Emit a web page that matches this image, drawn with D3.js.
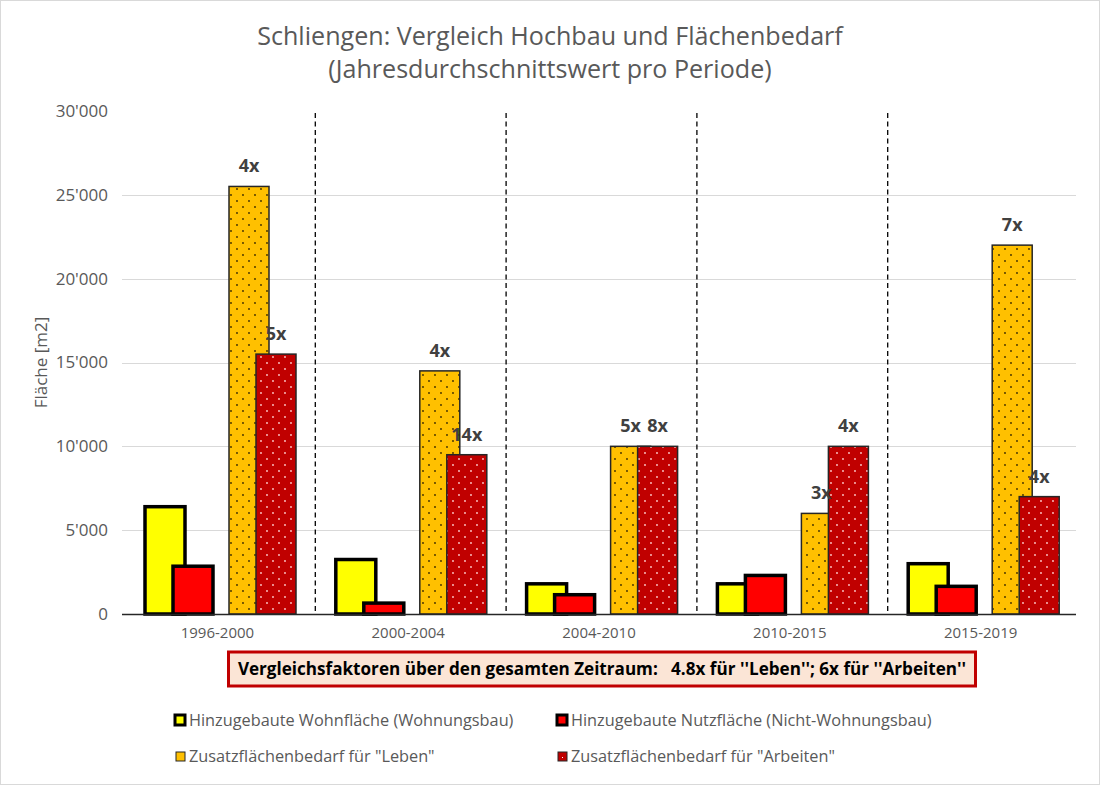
<!DOCTYPE html>
<html>
<head>
<meta charset="utf-8">
<script src="https://cdn.jsdelivr.net/npm/d3@7"></script>
<style>
  html, body { margin: 0; padding: 0; background: #fff; }
  svg { display: block; font-family: "Open Sans", Lato, sans-serif; }
</style>
</head>
<body>
<svg id="chart" width="1100" height="785"></svg>
<script>
// ---------- data ----------
const categories = ["1996-2000", "2000-2004", "2004-2010", "2010-2015", "2015-2019"];
const wohnflaeche = [6400, 3250, 1800, 1800, 3000];
const nutzflaeche = [2850, 650, 1150, 2300, 1650];
const bedarfLeben = [25500, 14500, 10000, 6000, 22000];
const bedarfArbeiten = [15500, 9500, 10000, 10000, 7000];
const faktorLeben = ["4x", "4x", "5x", "3x", "7x"];
const faktorArbeiten = ["5x", "14x", "8x", "4x", "4x"];
const yTicks = [0, 5000, 10000, 15000, 20000, 25000, 30000];
const seriesNames = [
  "Hinzugebaute Wohnfläche (Wohnungsbau)",
  "Hinzugebaute Nutzfläche (Nicht-Wohnungsbau)",
  "Zusatzflächenbedarf für \"Leben\"",
  "Zusatzflächenbedarf für \"Arbeiten\""
];
const titleLines = ["Schliengen: Vergleich Hochbau und Flächenbedarf", "(Jahresdurchschnittswert pro Periode)"];
const yAxisTitle = "Fläche [m2]";
const noteText = "Vergleichsfaktoren über den gesamten Zeitraum:\u00A0\u00A0\u00A04.8x für ''Leben''; 6x für ''Arbeiten''";

// ---------- layout ----------
const W = 1100, H = 785;
const plot = { left: 122, right: 1076, top: 111, bottom: 614 };
const svg = d3.select("#chart");

const defs = svg.append("defs");
function dotPattern(id, bg, dot) {
  const p = defs.append("pattern").attr("id", id).attr("patternUnits", "userSpaceOnUse")
    .attr("width", 12).attr("height", 12);
  p.append("rect").attr("width", 12).attr("height", 12).attr("fill", bg);
  p.append("circle").attr("cx", 3).attr("cy", 3).attr("r", 0.9).attr("fill", dot);
  p.append("circle").attr("cx", 9).attr("cy", 9).attr("r", 0.9).attr("fill", dot);
}
dotPattern("patLeben", "#ffc000", "#3a2a00");
dotPattern("patArbeiten", "#c00000", "#ffd0d0");

const series = [
  { key: "wohn", name: seriesNames[0], values: wohnflaeche, fill: "#ffff00", stroke: "#000", sw: 3.5, offset: 23 },
  { key: "nutz", name: seriesNames[1], values: nutzflaeche, fill: "#ff0000", stroke: "#000", sw: 3.5, offset: 51 },
  { key: "leben", name: seriesNames[2], values: bedarfLeben, fill: "url(#patLeben)", stroke: "#262626", sw: 1.5, offset: 107, labels: faktorLeben },
  { key: "arbeiten", name: seriesNames[3], values: bedarfArbeiten, fill: "url(#patArbeiten)", stroke: "#262626", sw: 1.5, offset: 134, labels: faktorArbeiten }
];
const barW = 40;

// background + border
svg.append("rect").attr("x", 0.5).attr("y", 0.5).attr("width", W - 1).attr("height", H - 1)
  .attr("fill", "#fff").attr("stroke", "#d9d9d9");

const x = d3.scaleBand().domain(categories).range([plot.left, plot.right]).padding(0);
const y = d3.scaleLinear().domain([0, 30000]).range([plot.bottom, plot.top]);

// gridlines (no line at top)
svg.append("g").selectAll("line").data(yTicks.filter(t => t > 0 && t < 30000)).join("line")
  .attr("x1", plot.left).attr("x2", plot.right)
  .attr("y1", d => Math.round(y(d)) + 0.5).attr("y2", d => Math.round(y(d)) + 0.5)
  .attr("stroke", "#d9d9d9").attr("stroke-width", 1);

// y axis labels
const yAxis = d3.axisLeft(y).tickValues(yTicks).tickSize(0).tickPadding(0)
  .tickFormat(d => d3.format(",")(d).replace(/,/g, "'"));
const gy = svg.append("g").attr("transform", `translate(${plot.left - 14},0)`).call(yAxis)
  .attr("font-family", null).attr("font-size", null);
gy.select(".domain").remove();
gy.selectAll("text").attr("fill", "#595959").attr("font-size", 17);

// y axis title
svg.append("text").attr("transform", `translate(47,${(plot.top + plot.bottom) / 2}) rotate(-90)`)
  .attr("text-anchor", "middle").attr("fill", "#595959").attr("font-size", 17).text(yAxisTitle);

// separators between categories
svg.append("g").selectAll("line").data(categories.slice(1)).join("line")
  .attr("x1", d => x(d) + 2.5).attr("x2", d => x(d) + 2.5)
  .attr("y1", plot.top + 2).attr("y2", plot.bottom)
  .attr("stroke", "#000").attr("stroke-width", 1.3).attr("stroke-dasharray", "5,3.5");

// bars
series.forEach(s => {
  svg.append("g").selectAll("rect").data(categories).join("rect")
    .attr("x", (c) => x(c) + s.offset)
    .attr("y", (c, i) => y(s.values[i]))
    .attr("width", barW)
    .attr("height", (c, i) => y(0) - y(s.values[i]))
    .attr("fill", s.fill).attr("stroke", s.stroke).attr("stroke-width", s.sw);
});

// x axis line
svg.append("line").attr("x1", plot.left).attr("x2", plot.right)
  .attr("y1", plot.bottom + 0.5).attr("y2", plot.bottom + 0.5)
  .attr("stroke", "#262626").attr("stroke-width", 1.3);

// x axis labels
const xAxis = d3.axisBottom(x).tickSize(0).tickPadding(0);
const gx = svg.append("g").attr("transform", `translate(0,${plot.bottom + 13})`).call(xAxis)
  .attr("font-family", null).attr("font-size", null);
gx.select(".domain").remove();
gx.selectAll("text").attr("fill", "#595959").attr("font-size", 15);

// factor labels
series.filter(s => s.labels).forEach(s => {
  svg.append("g").selectAll("text").data(categories).join("text")
    .attr("x", c => x(c) + s.offset + barW / 2)
    .attr("y", (c, i) => y(s.values[i]) - 14)
    .attr("text-anchor", "middle").attr("font-weight", "bold").attr("font-size", 18)
    .attr("fill", "#404040").text((c, i) => s.labels[i]);
});

// note box
svg.append("rect").attr("x", 228.5).attr("y", 652).attr("width", 747).attr("height", 34)
  .attr("fill", "#fbe5d6").attr("stroke", "#c00000").attr("stroke-width", 3);
svg.append("text").attr("x", 602).attr("y", 675).attr("text-anchor", "middle")
  .attr("font-weight", "bold").attr("font-size", 17.1).attr("fill", "#000").text(noteText);

// title
svg.append("g").selectAll("text").data(titleLines).join("text")
  .attr("x", W / 2).attr("y", (d, i) => 45 + i * 33)
  .attr("text-anchor", "middle").attr("fill", "#595959").attr("font-size", 25.1).text(d => d);

// legend
const legendPos = [
  { x: 175, y: 720 }, { x: 557, y: 720 }, { x: 175, y: 756 }, { x: 557, y: 756 }
];
const lg = svg.append("g").selectAll("g").data(series).join("g")
  .attr("transform", (d, i) => `translate(${legendPos[i].x},${legendPos[i].y})`);
lg.append("rect").attr("x", (d, i) => i < 2 ? 0 : 1).attr("y", (d, i) => i < 2 ? -5 : -4)
  .attr("width", (d, i) => i < 2 ? 10 : 9).attr("height", (d, i) => i < 2 ? 10 : 9)
  .attr("fill", d => d.key === "leben" ? "#ffc000" : d.key === "arbeiten" ? "#c00000" : d.fill)
  .attr("stroke", d => d.stroke).attr("stroke-width", (d, i) => i < 2 ? 3 : 1);
lg.filter(d => d.key === "arbeiten").append("rect").attr("x", 5).attr("y", 1).attr("width", 1).attr("height", 1).attr("fill", "#fff");
lg.append("text").attr("x", 14).attr("y", 5.5).attr("fill", "#595959").attr("font-size", 16.3).text(d => d.name);
</script>
</body>
</html>
